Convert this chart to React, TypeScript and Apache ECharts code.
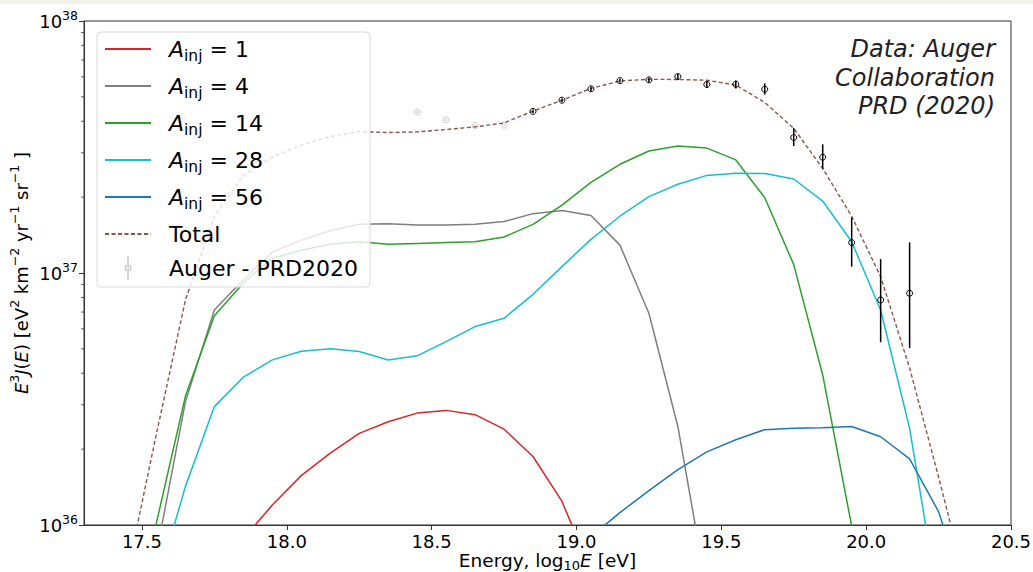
import React, { useEffect, useRef } from 'react';
import * as echarts from 'echarts';

// Bin centres, log10(E / eV)
const energies = [
  17.45, 17.55, 17.65, 17.75, 17.85, 17.95, 18.05, 18.15, 18.25, 18.35,
  18.45, 18.55, 18.65, 18.75, 18.85, 18.95, 19.05, 19.15, 19.25, 19.35,
  19.45, 19.55, 19.65, 19.75, 19.85, 19.95, 20.05, 20.15, 20.25, 20.35,
];

// E^3 J(E) per injected mass (null = not drawn)
const fluxA1 = [
  null, null, null, null, 8.8e35, 1.2e36, 1.57e36, 1.93e36, 2.31e36, 2.57e36,
  2.78e36, 2.85e36, 2.74e36, 2.4e36, 1.87e36, 1.24e36, 6.6e35, null, null, null,
  null, null, null, null, null, null, null, null, null, null,
];
const fluxA4 = [
  null, 7.7e35, 3.08e36, 7.13e36, 9.4e36, 1.21e37, 1.35e37, 1.47e37, 1.56e37, 1.57e37,
  1.55e37, 1.55e37, 1.56e37, 1.6e37, 1.72e37, 1.77e37, 1.69e37, 1.29e37, 6.92e36, 2.46e36,
  5.5e35, null, null, null, null, null, null, null, null, null,
];
const fluxA14 = [
  3.2e35, 1.02e36, 3.24e36, 6.77e36, 9.12e36, 1.145e37, 1.23e37, 1.3e37, 1.33e37, 1.3e37,
  1.31e37, 1.32e37, 1.33e37, 1.39e37, 1.56e37, 1.86e37, 2.29e37, 2.7e37, 3.05e37, 3.19e37,
  3.13e37, 2.81e37, 1.99e37, 1.08e37, 3.94e36, 9.9e35, 1.5e35, null, null, null,
];
const fluxA28 = [
  null, 5.7e35, 1.42e36, 2.95e36, 3.86e36, 4.52e36, 4.89e36, 5.01e36, 4.88e36, 4.52e36,
  4.69e36, 5.34e36, 6.13e36, 6.61e36, 8.23e36, 1.06e37, 1.36e37, 1.68e37, 2.01e37, 2.25e37,
  2.44e37, 2.49e37, 2.48e37, 2.36e37, 1.93e37, 1.33e37, 7.13e36, 2.42e36, 4.9e35, null,
];
const fluxA56 = [
  null, null, null, null, null, null, null, null, null, null,
  null, null, null, null, null, null, 9.0e35, 1.12e36, 1.37e36, 1.66e36,
  1.95e36, 2.18e36, 2.39e36, 2.42e36, 2.43e36, 2.46e36, 2.24e36, 1.83e36, 1.13e36, 5.0e35,
];
const fluxTotal = [
  6.5e35, 2.3e36, 7.8e36, 1.68e37, 2.44e37, 2.88e37, 3.22e37, 3.48e37, 3.64e37, 3.61e37,
  3.63e37, 3.71e37, 3.8e37, 3.94e37, 4.39e37, 4.85e37, 5.4e37, 5.78e37, 5.87e37, 5.86e37,
  5.82e37, 5.57e37, 4.75e37, 3.75e37, 2.6e37, 1.68e37, 9.67e36, 4.2e36, 1.55e36, 5.5e35,
];

// Auger PRD 2020 data points
const augerE = [
  18.45, 18.55, 18.65, 18.75, 18.85, 18.95, 19.05, 19.15, 19.25,
  19.35, 19.45, 19.55, 19.65, 19.75, 19.85, 19.95, 20.05, 20.15,
];
const augerFlux = [
  4.35e37, 4.05e37, 3.85e37, 3.86e37, 4.38e37, 4.85e37, 5.38e37, 5.8e37, 5.84e37,
  6.02e37, 5.6e37, 5.61e37, 5.36e37, 3.45e37, 2.88e37, 1.32e37, 7.82e36, 8.31e36,
];
const augerLow = [
  4.3e37, 4.0e37, 3.81e37, 3.82e37, 4.31e37, 4.77e37, 5.28e37, 5.7e37, 5.72e37,
  5.88e37, 5.42e37, 5.4e37, 5.11e37, 3.19e37, 2.58e37, 1.06e37, 5.31e36, 5.03e36,
];
const augerHigh = [
  4.4e37, 4.1e37, 3.89e37, 3.9e37, 4.45e37, 4.93e37, 5.48e37, 5.9e37, 5.96e37,
  6.16e37, 5.78e37, 5.8e37, 5.65e37, 3.76e37, 3.24e37, 1.66e37, 1.136e37, 1.323e37,
];
const augerFadedCount = 4; // first points drawn faded

const xTicks = [17.5, 18.0, 18.5, 19.0, 19.5, 20.0, 20.5];
const yMinorTicks = [
  2e36, 3e36, 4e36, 5e36, 6e36, 7e36, 8e36, 9e36,
  2e37, 3e37, 4e37, 5e37, 6e37, 7e37, 8e37, 9e37,
];

const seriesNames = ['A_inj = 1', 'A_inj = 4', 'A_inj = 14', 'A_inj = 28', 'A_inj = 56', 'Total'];
const seriesValues = [fluxA1, fluxA4, fluxA14, fluxA28, fluxA56, fluxTotal];
const seriesColors = ['#d62728', '#7f7f7f', '#2ca02c', '#17becf', '#1f77b4', '#8c564b'];
const augerName = 'Auger - PRD2020';

const X_MIN = 17.3;
const X_MAX = 20.5;
const FONT = 'DejaVu Sans';

function pairs(vals: (number | null)[]) {
  const out: [number, number][] = [];
  vals.forEach((v, i) => {
    if (v !== null) out.push([energies[i], v]);
  });
  return out;
}

const errIconPath =
  'path://M0 0L0 0M46 24L46 24' +
  'M22.4 0.5L23.6 0.5L23.6 23.5L22.4 23.5Z' +
  'M26.4 12A3.4 3.4 0 1 0 19.6 12A3.4 3.4 0 1 0 26.4 12Z' +
  'M25.4 12A2.4 2.4 0 1 1 20.6 12A2.4 2.4 0 1 1 25.4 12Z';

export default function App() {
  const ref = useRef<HTMLDivElement>(null);

  useEffect(() => {
    document.body.style.margin = '0';
    const chart = echarts.init(ref.current!, null, { renderer: 'svg' });

    const lineSeries = seriesNames.map((name, i) => ({
      name,
      type: 'line',
      data: pairs(seriesValues[i]),
      symbol: 'none',
      showSymbol: false,
      clip: true,
      z: 3,
      itemStyle: { color: seriesColors[i] },
      lineStyle: {
        color: seriesColors[i],
        width: i === 5 ? 1.4 : 1.5,
        type: i === 5 ? [4, 2.5] : 'solid',
      },
      emphasis: { disabled: true },
    }));

    const augerSeries = {
      name: augerName,
      type: 'custom',
      z: 4,
      itemStyle: { color: '#bdbdbd' },
      encode: { x: 0, y: 1 },
      data: augerE.map((e, i) => [e, augerFlux[i], augerLow[i], augerHigh[i]]),
      renderItem: (params: any, api: any) => {
        const x = api.value(0);
        const c = api.coord([x, api.value(1)]);
        const lo = api.coord([x, api.value(2)]);
        const hi = api.coord([x, api.value(3)]);
        const faded = params.dataIndex < augerFadedCount;
        const col = faded ? 'rgba(0,0,0,0.2)' : '#000';
        return {
          type: 'group',
          children: [
            {
              type: 'line',
              shape: { x1: c[0], y1: hi[1], x2: c[0], y2: lo[1] },
              style: { stroke: col, lineWidth: 1.5 },
            },
            {
              type: 'circle',
              shape: { cx: c[0], cy: c[1], r: 3 },
              style: { fill: 'none', stroke: col, lineWidth: 1 },
            },
          ],
        };
      },
    };

    const minorTickSeries = {
      type: 'custom',
      silent: true,
      clip: false,
      z: 5,
      encode: { x: 0, y: 1 },
      data: yMinorTicks.map((v) => [X_MIN, v]),
      renderItem: (params: any, api: any) => {
        const c = api.coord([api.value(0), api.value(1)]);
        const left = params.coordSys.x;
        return {
          type: 'line',
          shape: { x1: left - 3, y1: c[1], x2: left, y2: c[1] },
          style: { stroke: '#333', lineWidth: 0.8 },
        };
      },
    };

    const LF = 22;
    const legendRich = {
      a: { fontFamily: FONT, fontSize: LF, fontStyle: 'italic', lineHeight: 30, color: '#000' },
      s: { fontFamily: FONT, fontSize: 15.5, verticalAlign: 'bottom', color: '#000' },
      t: { fontFamily: FONT, fontSize: LF, lineHeight: 30, color: '#000' },
    };

    const option: any = {
      animation: false,
      backgroundColor: '#fff',
      grid: {
        left: 84,
        right: 22,
        top: 21,
        bottom: 47,
        show: true,
        borderColor: '#333',
        borderWidth: 1,
        backgroundColor: 'transparent',
        containLabel: false,
        outerBoundsMode: 'none',
      },
      legend: {
        orient: 'vertical',
        left: 97,
        top: 32,
        itemWidth: 46,
        itemHeight: 24,
        itemGap: 11,
        padding: [6, 12, 7, 7],
        backgroundColor: 'rgba(255,255,255,0.8)',
        borderColor: '#d9d9d9',
        borderWidth: 1,
        borderRadius: 4,
        selectedMode: false,
        z: 10,
        data: [
          ...seriesNames.map((n) => ({ name: n, itemStyle: { opacity: 0 } })),
          { name: augerName, icon: errIconPath, itemStyle: { color: '#bdbdbd', borderWidth: 0, opacity: 1 } },
        ],
        formatter: (name: string) => {
          if (name.startsWith('A_inj')) {
            return `{a|A}{s|inj}{t|${name.slice(5)}}`;
          }
          return `{t|${name}}`;
        },
        textStyle: { rich: legendRich, padding: [0, 0, 0, 13] },
      },
      xAxis: {
        type: 'value',
        min: X_MIN,
        max: X_MAX,
        axisLine: { show: true, onZero: false, lineStyle: { color: '#333', width: 1 } },
        axisTick: { show: true, length: 5, customValues: xTicks, lineStyle: { color: '#333' } },
        axisLabel: {
          customValues: xTicks,
          formatter: (v: number) => v.toFixed(1),
          fontFamily: FONT,
          fontSize: 18,
          color: '#000',
          margin: 7,
        },
        splitLine: { show: false },
        name: '{n|Energy, log}{b|10}{e|E}{n| [eV]}',
        nameLocation: 'middle',
        nameGap: 23,
        nameMoveOverlap: false,
        nameTextStyle: {
          rich: {
            n: { fontFamily: FONT, fontSize: 18.5, lineHeight: 24, color: '#000' },
            e: { fontFamily: FONT, fontSize: 18.5, lineHeight: 24, fontStyle: 'italic', color: '#000' },
            b: { fontFamily: FONT, fontSize: 13, verticalAlign: 'bottom', color: '#000' },
          },
        },
      },
      yAxis: {
        type: 'log',
        logBase: 10,
        min: 1e36,
        max: 1e38,
        axisLine: { show: true, lineStyle: { color: '#333', width: 1 } },
        axisTick: { show: true, length: 5, lineStyle: { color: '#333' } },
        minorTick: { show: false },
        axisLabel: {
          formatter: (v: number) => `{b|10}{s|${Math.round(Math.log10(v))}}`,
          margin: 6,
          rich: {
            b: { fontFamily: FONT, fontSize: 18, lineHeight: 24, color: '#000' },
            s: { fontFamily: FONT, fontSize: 12.5, verticalAlign: 'top', color: '#000' },
          },
        },
        splitLine: { show: false },
        name:
          '{e|E}{p|3}{e|J}{n|(}{e|E}{n|) [eV}{p|2}{n| km}{p|−2}{n| yr}{p|−1}{n| sr}{p|−1}{n| ]}',
        nameLocation: 'middle',
        nameRotate: 90,
        nameGap: 50,
        nameMoveOverlap: false,
        nameTextStyle: {
          rich: {
            n: { fontFamily: FONT, fontSize: 18, lineHeight: 26, color: '#000' },
            e: { fontFamily: FONT, fontSize: 18, lineHeight: 26, fontStyle: 'italic', color: '#000' },
            p: { fontFamily: FONT, fontSize: 12.5, verticalAlign: 'top', color: '#000' },
          },
        },
      },
      graphic: [
        {
          type: 'rect',
          x: 0,
          y: 0,
          shape: { x: 0, y: 0, width: 1033, height: 4 },
          style: { fill: '#f3f1ed' },
          silent: true,
        },
        {
          type: 'text',
          x: 995,
          y: 35,
          style: {
            text: 'Data: Auger\nCollaboration\nPRD (2020)',
            align: 'right',
            textAlign: 'right',
            verticalAlign: 'top',
            fontFamily: FONT,
            fontStyle: 'italic',
            fontSize: 24,
            lineHeight: 28.5,
            fill: '#222',
          },
        },
      ],
      series: [...lineSeries, augerSeries, minorTickSeries],
    };

    chart.setOption(option);
    return () => chart.dispose();
  }, []);

  return (
    <div
      ref={ref}
      style={{ position: 'absolute', left: 0, top: 0, width: 1033, height: 572 }}
    />
  );
}
